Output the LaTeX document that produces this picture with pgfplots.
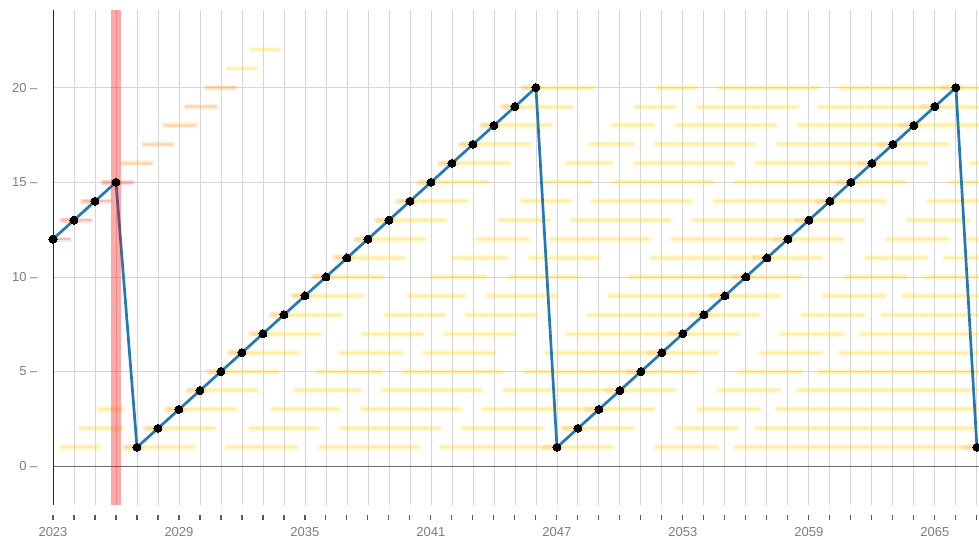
\documentclass[border=0pt]{standalone}
\usepackage{fontspec}
\setmainfont{Liberation Sans}
\usepackage{pgfplots}
\usepackage{pgfplotstable}
\pgfplotsset{compat=1.18}
\definecolor{gridc}{RGB}{214,214,214}
\definecolor{labc}{RGB}{125,125,125}
\definecolor{tickc}{RGB}{90,90,90}
\definecolor{linec}{RGB}{36,120,180}
\definecolor{yel}{RGB}{255,216,40}
\definecolor{org}{RGB}{250,165,70}
\definecolor{redc}{RGB}{255,70,70}
\newcommand{\tk}{\textcolor{tickc}{\rule{1.1pt}{5pt}}}
\newcommand{\tl}[1]{\tk\\[1pt]#1}

% yellow segments: start x, row y, length u
\pgfplotstableread{
x y u
2023.4 1 1.8
2026.5 1 3.2
2031.3 1 3.3
2035.7 1 4.7
2041.5 1 8.1
2051.7 1 2.9
2055.5 1 11.6
2024.3 2 2.0
2027.5 2 3.2
2032.38 2 3.22
2036.7 2 4.7
2042.5 2 3.8
2047.2 2 3.4
2052.7 2 2.9
2056.5 2 10.6
2025.2 3 1.1
2028.5 3 3.2
2033.46 3 3.14
2037.7 3 4.7
2043.5 3 8.1
2053.7 3 2.9
2057.5 3 9.6
2029.5 4 3.2
2034.54 4 3.06
2038.7 4 4.7
2044.5 4 8.1
2054.7 4 2.9
2058.5 4 8.6
2030.5 5 3.2
2035.62 5 2.98
2039.7 5 4.7
2045.5 5 8.1
2055.7 5 2.9
2059.5 5 7.6
2031.5 6 3.2
2036.7 6 2.9
2040.7 6 3.3
2046.5 6 8.1
2056.7 6 2.9
2060.5 6 6.6
2032.5 7 3.2
2037.78 7 2.82
2041.7 7 3.3
2047.5 7 8.1
2057.7 7 2.9
2061.5 7 5.6
2033.5 8 3.2
2038.86 8 2.74
2042.7 8 3.3
2048.5 8 8.1
2058.7 8 2.9
2062.5 8 4.6
2034.5 9 3.2
2039.94 9 2.66
2043.7 9 3.3
2049.5 9 8.1
2059.7 9 2.9
2063.5 9 3.6
2035.5 10 3.2
2041.02 10 2.58
2044.7 10 3.3
2050.5 10 8.1
2060.7 10 2.9
2064.5 10 2.6
2036.5 11 3.2
2042.1 11 2.5
2045.7 11 3.3
2051.5 11 8.1
2061.7 11 2.9
2065.5 11 1.6
2037.5 12 3.2
2043.18 12 2.42
2046.7 12 4.7
2052.5 12 8.1
2062.7 12 2.9
2066.5 12 0.6
2038.5 13 3.2
2044.26 13 2.34
2047.7 13 4.7
2053.5 13 8.1
2063.7 13 2.9
2039.5 14 3.2
2045.34 14 2.26
2048.7 14 4.7
2054.5 14 8.1
2064.7 14 2.4
2040.5 15 3.2
2046.42 15 2.18
2049.7 15 4.7
2055.5 15 8.1
2065.7 15 1.4
2041.5 16 3.2
2047.5 16 2.1
2050.7 16 4.7
2056.5 16 8.1
2066.7 16 0.4
2042.5 17 3.2
2048.58 17 2.02
2051.7 17 4.7
2057.5 17 8.1
2043.5 18 3.2
2049.66 18 1.94
2052.7 18 4.7
2058.5 18 8.6
2044.5 19 3.2
2050.74 19 1.86
2053.7 19 4.7
2059.5 19 7.6
2045.5 20 3.2
2051.82 20 1.78
2054.7 20 4.7
2060.5 20 6.6
}\segs

% orange continuation of the first run
\pgfplotstableread{
x y u
2026.3 16 1.4
2027.3 17 1.4
2028.3 18 1.5
2029.3 19 1.5
2030.3 20 1.4
}\cont
\pgfplotstableread{
x y u
2031.3 21 1.4
2032.4 22 1.4
}\contb

% red glow at the first points
\pgfplotstableread{
x y u
2022.5 12 1.3
2023.45 13 1.35
2024.45 14 1.3
2025.4 15 1.4
}\redseg

% main series
\pgfplotstableread{
x y
2023 12
2024 13
2025 14
2026 15
2027 1
2028 2
2029 3
2030 4
2031 5
2032 6
2033 7
2034 8
2035 9
2036 10
2037 11
2038 12
2039 13
2040 14
2041 15
2042 16
2043 17
2044 18
2045 19
2046 20
2047 1
2048 2
2049 3
2050 4
2051 5
2052 6
2053 7
2054 8
2055 9
2056 10
2057 11
2058 12
2059 13
2060 14
2061 15
2062 16
2063 17
2064 18
2065 19
2066 20
2067 1
}\main

\begin{document}
\begin{tikzpicture}
\begin{axis}[
  at={(0,0)}, anchor=south west,
  scale only axis, width=926pt, height=495pt,
  xmin=2023, xmax=2067.1, ymin=-2.05, ymax=24.1,
  axis line style={draw=none},
  xtick={2023,2024,...,2067},
  xticklabels={\tl{2023},\tk,\tk,\tk,\tk,\tk,\tl{2029},\tk,\tk,\tk,\tk,\tk,\tl{2035},\tk,\tk,\tk,\tk,\tk,\tl{2041},\tk,\tk,\tk,\tk,\tk,\tl{2047},\tk,\tk,\tk,\tk,\tk,\tl{2053},\tk,\tk,\tk,\tk,\tk,\tl{2059},\tk,\tk,\tk,\tk,\tk,\tl{2065},\tk,\tk},
  ytick={0,5,10,15,20},
  yticklabels={0 --,5 --,10 --,15 --,20 --},
  major tick length=0pt,
  xmajorgrids, ymajorgrids,
  grid style={draw=gridc, line width=0.8pt},
  tick label style={font=\fontsize{13}{15}\selectfont, text=labc},
  xticklabel style={align=center, anchor=north, yshift=-6.5pt},
  yticklabel style={xshift=-12pt},
]
% zero line
\addplot[draw=black!58, line width=1.2pt] coordinates {(2023,0) (2067.1,0)};
% yellow field (three layers for a soft edge)
\addplot[draw=yel, line width=7pt, line cap=round, opacity=0.11, quiver={u=\thisrow{u}, v=0}, -] table[x=x,y=y] {\segs};
\addplot[draw=yel, line width=4pt, line cap=round, opacity=0.17, quiver={u=\thisrow{u}, v=0}, -] table[x=x,y=y] {\segs};
\addplot[draw=yel, line width=2pt, opacity=0.22, quiver={u=\thisrow{u}, v=0}, -] table[x=x,y=y] {\segs};
% orange continuation
\addplot[draw=org, line width=6pt, line cap=round, opacity=0.15, quiver={u=\thisrow{u}, v=0}, -] table[x=x,y=y] {\cont};
\addplot[draw=org, line width=2.5pt, opacity=0.3, quiver={u=\thisrow{u}, v=0}, -] table[x=x,y=y] {\cont};
\addplot[draw=yel, line width=5pt, line cap=round, opacity=0.15, quiver={u=\thisrow{u}, v=0}, -] table[x=x,y=y] {\contb};
\addplot[draw=yel, line width=2.5pt, opacity=0.25, quiver={u=\thisrow{u}, v=0}, -] table[x=x,y=y] {\contb};
% red glow
\addplot[draw=redc, line width=5pt, line cap=round, opacity=0.15, quiver={u=\thisrow{u}, v=0}, -] table[x=x,y=y] {\redseg};
\addplot[draw=redc, line width=2.5pt, opacity=0.25, quiver={u=\thisrow{u}, v=0}, -] table[x=x,y=y] {\redseg};
% orange glow left of each point
\addplot[draw=org, line width=5pt, line cap=round, opacity=0.22, quiver={u=0.8, v=0}, -] table[x expr=\thisrow{x}-0.6, y=y] {\main};
% main line
\addplot[draw=linec, line width=2.7pt, mark=*, mark size=4pt, mark options={fill=black, draw=black, line width=0pt}] table[x=x,y=y] {\main};
% red marker band
\addplot[fill=red, fill opacity=0.34, draw=none] coordinates {(2025.74,-2.05) (2026.26,-2.05) (2026.26,24.1) (2025.74,24.1)} -- cycle;
% left axis line
\addplot[draw=black!85, line width=1.2pt] coordinates {(2023,-2.05) (2023,24.1)};
\end{axis}
\pgfresetboundingbox
\path[use as bounding box] (-53pt,-34pt) rectangle (926pt,505pt);
\end{tikzpicture}
\end{document}
